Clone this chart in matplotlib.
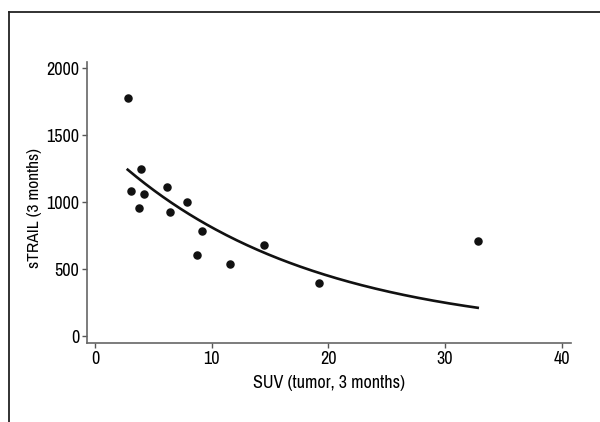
import numpy as np
import matplotlib
matplotlib.use('Agg')
import matplotlib.pyplot as plt
from matplotlib import font_manager
from matplotlib.lines import Line2D

# SUV of tumor vs soluble TRAIL, both at 3 months
suv = [2.8, 3.1, 3.8, 3.9, 4.2, 6.2, 6.4, 7.9, 8.7, 9.2, 11.6, 14.5, 19.2, 32.8]
strail = [1775, 1082, 957, 1245, 1060, 1114, 927, 1002, 604, 781, 537, 681, 398, 706]

# exponential fit y = a * exp(-b * x)
fit_a = 1465.0
fit_b = 0.0591
fit_range = (2.8, 32.8)

x_ticks = [0, 10, 20, 30, 40]
y_ticks = [0, 500, 1000, 1500, 2000]

# prefer a narrow face if one is around
names = {f.name for f in font_manager.fontManager.ttflist}
narrow = [n for n in sorted(names) if 'Narrow' in n or 'Condensed' in n]
if narrow:
    plt.rcParams['font.family'] = narrow[0]
else:
    plt.rcParams['font.family'] = 'DejaVu Sans'
    plt.rcParams['font.stretch'] = 'condensed'

fig = plt.figure(figsize=(6, 4.22), dpi=100)
ax = fig.add_axes([0.145, 0.1872, 0.8067, 0.6658])

ax.scatter(suv, strail, s=26, color='#111111', zorder=3)
xf = np.linspace(fit_range[0], fit_range[1], 200)
ax.plot(xf, fit_a * np.exp(-fit_b * xf), color='#111111', lw=1.9)

ax.set_xlim(-0.69, 40.8)
ax.set_ylim(-52, 2045)
ax.set_xticks(x_ticks)
ax.set_yticks(y_ticks)
ax.tick_params(labelsize=13, length=3.5, width=1, color='#555555', pad=2)
for side in ('top', 'right'):
    ax.spines[side].set_visible(False)
for side in ('left', 'bottom'):
    ax.spines[side].set_color('#666666')
    ax.spines[side].set_linewidth(1.2)

ax.set_xlabel('SUV (tumor, 3 months)', fontsize=13, labelpad=6)
ax.set_ylabel('sTRAIL (3 months)', fontsize=12.5)
ax.yaxis.set_label_coords(-0.092, 0.48)

# open frame around the figure
fig.add_artist(Line2D([0.015, 1.0], [0.9716, 0.9716], color='#222222', lw=1.3))
fig.add_artist(Line2D([0.015, 0.015], [0.0, 0.9716], color='#222222', lw=1.3))

fig.savefig('out.png', dpi=100)
